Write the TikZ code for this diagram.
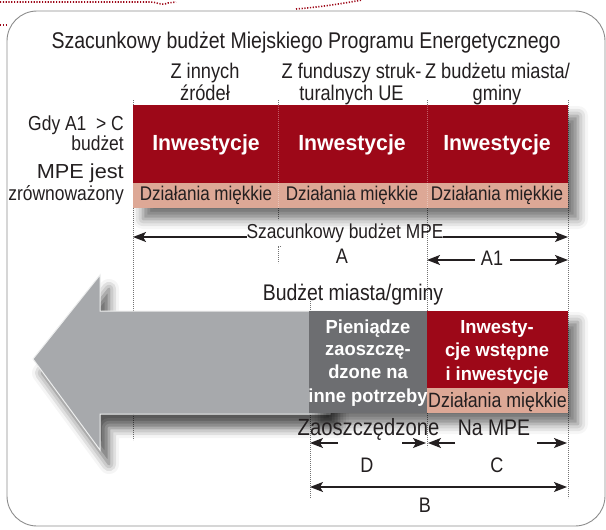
\documentclass[tikz,border=0pt]{standalone}
\usepackage{fontspec}
\setmainfont{Liberation Sans}[FakeStretch=0.86]
\newfontfamily\boldsans{Liberation Sans}[FakeStretch=0.97]
\newfontfamily\widesans{Liberation Sans}[FakeStretch=1.07]
\usetikzlibrary{shadows.blur,arrows.meta}
\definecolor{mred}{RGB}{157,8,24}
\definecolor{mpink}{RGB}{221,168,150}
\definecolor{mdgray}{RGB}{109,110,113}
\definecolor{mlgray}{RGB}{167,169,172}
\definecolor{mframe}{RGB}{140,140,140}
\definecolor{mtext}{RGB}{35,31,32}
\newcommand{\fs}[1]{\fontsize{#1}{#1}\selectfont}
\tikzset{
  txt/.style={inner sep=0pt, anchor=base, text=mtext},
  rtxt/.style={inner sep=0pt, anchor=base east, text=mtext, font=\fs{20.3}},
  blk/.style={inner sep=0pt, outer sep=0pt, anchor=north west},
  invtxt/.style={inner sep=0pt, anchor=base, text=white, font=\boldsans\bfseries\fs{21.9}},
  wtxt/.style={inner sep=0pt, anchor=base, text=white, font=\boldsans\bfseries\fs{18.9}},
  guide/.style={draw=black!55, line width=0.6pt, dash pattern=on 0.7pt off 1.3pt},
  tip/.tip={Stealth[length=13pt,width=10pt,inset=3pt]},
  dim/.style={draw=mtext, line width=1.3pt, -tip},
  dimboth/.style={draw=mtext, line width=1.3pt, tip-tip},
  deco/.style={draw=mred, line width=1.6pt, dash pattern=on 1.2pt off 1.6pt},
  shad/.style={blur shadow={shadow xshift=10pt, shadow yshift=-11pt, shadow blur radius=10pt, shadow opacity=55}}
}
\begin{document}
\begin{tikzpicture}[x=1pt,y=-1pt]
\useasboundingbox (0,0) rectangle (606,530);
% decorative dotted red lines
\draw[deco] (0,2) -- (150,2) .. controls (158,2) and (160,6) .. (168,3) -- (176,2);
\draw[deco] (296,9) .. controls (320,7) and (340,4) .. (362,0);
\draw[deco] (0,25) -- (7,25);
% frame
\draw[mframe, line width=0.9pt, rounded corners=30pt] (7,11) rectangle (605,526);

% guide lines (under blocks)
\draw[guide] (133,100) -- (133,440);
\draw[guide] (278,100) -- (278,220);
\draw[guide] (281,246) -- (278,246) -- (278,263);
\draw[guide] (427,100) -- (427,311);
\draw[guide] (427,413) -- (427,447);
\draw[guide] (568,100) -- (568,498);
\draw[guide] (310,297) -- (310,498);

% title and headers
\node[txt, font=\fs{22.7}] (title) at (306,48) {Szacunkowy budżet Miejskiego Programu Energetycznego};
\node[txt, font=\fs{21.2}] (h1a) at (205,78) {Z innych};
\node[txt, font=\fs{21.2}] (h1b) at (205,100) {źródeł};
\node[txt, font=\fs{21.2}] (h2a) at (351.5,78) {Z funduszy struk-};
\node[txt, font=\fs{21.2}] (h2b) at (351.5,100) {turalnych UE};
\node[txt, font=\fs{21.2}] (h3a) at (497.5,78) {Z budżetu miasta/};
\node[txt, font=\fs{21.2}] (h3b) at (497,100) {gminy};

% left labels
\node[rtxt] (l1) at (124,130) {Gdy A1\ \ > C};
\node[rtxt] (l2) at (124,150) {budżet};
\node[rtxt, font=\widesans\fs{20.3}] (l3) at (124,178) {MPE jest};
\node[rtxt] (l4) at (124,200) {zrównoważony};

% top block
\path[shad, fill=mred] (133,105) rectangle (568,208);
\node[blk, fill=mred, minimum width=145pt, minimum height=78pt] (r1) at (133,105) {};
\node[blk, fill=mred, minimum width=149pt, minimum height=78pt] (r2) at (278,105) {};
\node[blk, fill=mred, minimum width=141pt, minimum height=78pt] (r3) at (427,105) {};
\node[blk, fill=mpink, minimum width=145pt, minimum height=25pt] (p1) at (133,183) {};
\node[blk, fill=mpink, minimum width=149pt, minimum height=25pt] (p2) at (278,183) {};
\node[blk, fill=mpink, minimum width=141pt, minimum height=25pt] (p3) at (427,183) {};
\draw[guide, draw=white, opacity=0.35] (278,105) -- (278,208) (427,105) -- (427,208);
\node[invtxt] (i1) at (206,150) {Inwestycje};
\node[invtxt] (i2) at (352,150) {Inwestycje};
\node[invtxt] (i3) at (497,150) {Inwestycje};
\node[txt, font=\fs{19.8}] (d1) at (206,200) {Działania miękkie};
\node[txt, font=\fs{19.8}] (d2) at (352,200) {Działania miękkie};
\node[txt, font=\fs{19.8}] (d3) at (497,200) {Działania miękkie};

% dimension A
\node[txt, font=\fs{20.2}] (szac) at (345,238) {Szacunkowy budżet MPE};
\coordinate (sL) at (133,237);
\coordinate (sLi) at (247,237);
\coordinate (sR) at (568,237);
\coordinate (sRi) at (443,237);
\draw[dim] (sLi) -- (sL);
\draw[dim] (sRi) -- (sR);
\node[txt, font=\fs{21}] (A) at (342,263) {A};
\node[txt, font=\fs{21}] (A1) at (492,265) {A1};
\coordinate (a1L) at (427,260);
\coordinate (a1Li) at (475,260);
\coordinate (a1R) at (568,260);
\coordinate (a1Ri) at (510,260);
\draw[dim] (a1Li) -- (a1L);
\draw[dim] (a1Ri) -- (a1R);

% big arrow
\path[blur shadow={shadow xshift=9pt, shadow yshift=-14pt, shadow blur radius=10pt, shadow opacity=65}, fill=mlgray, draw=white!80!mlgray, line width=1pt]
  (330,311) -- (100,311) -- (100,275) -- (33,359) -- (100,450) -- (100,414) -- (330,414) -- cycle;

\node[txt, font=\fs{22.6}] (bmg) at (353,300) {Budżet miasta/gminy};

% lower blocks
\path[shad, fill=mred] (309,311) rectangle (568,413);
\node[blk, fill=mdgray, minimum width=118pt, minimum height=102pt] (g) at (309,311) {};
\node[blk, fill=mred, minimum width=141pt, minimum height=77pt] (r4) at (427,311) {};
\node[blk, fill=mpink, minimum width=141pt, minimum height=25pt] (p4) at (427,388) {};
\node[wtxt] (g1) at (368,333) {Pieniądze};
\node[wtxt] (g2) at (368,355) {zaoszczę-};
\node[wtxt] (g3) at (368,378) {dzone na};
\node[wtxt] (g4) at (368,402) {inne potrzeby};
\node[wtxt] (w1) at (497,333) {Inwesty-};
\node[wtxt] (w2) at (497,356) {cje wstępne};
\node[wtxt] (w3) at (497,380) {i inwestycje};
\node[txt, font=\fs{20.7}] (d4) at (497.5,407) {Działania miękkie};

% lower dimensions
\node[txt, font=\fs{23.5}] (zao) at (368.5,435) {Zaoszczędzone};
\node[txt, font=\fs{22.6}] (mpe) at (494,435) {Na MPE};
\coordinate (dL) at (310,443);
\coordinate (dLi) at (338,443);
\coordinate (dR) at (426,443);
\coordinate (dRi) at (402,443);
\coordinate (cL) at (428,443);
\coordinate (cLi) at (455,443);
\coordinate (cR) at (567,443);
\coordinate (cRi) at (537,443);
\draw[dim] (dLi) -- (dL);
\draw[dim] (dRi) -- (dR);
\draw[dim] (cLi) -- (cL);
\draw[dim] (cRi) -- (cR);
\node[txt, font=\fs{21}] (D) at (367,472) {D};
\node[txt, font=\fs{21}] (C) at (497,472) {C};
\coordinate (bL) at (310,487);
\coordinate (bR) at (567,487);
\draw[dimboth] (bL) -- (bR);
\node[txt, font=\fs{21}] (B) at (425,512) {B};
\end{tikzpicture}
\end{document}
